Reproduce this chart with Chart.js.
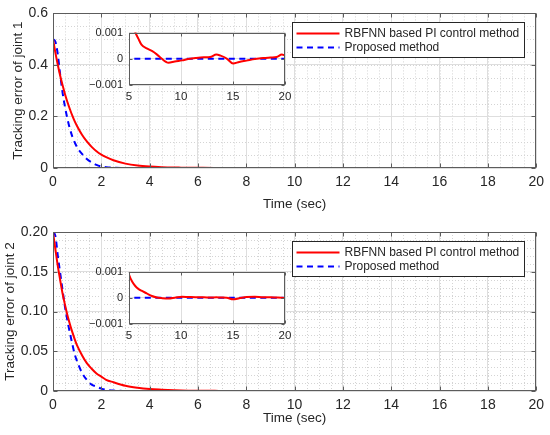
<!DOCTYPE html>
<html lang="en">
<head>
<meta charset="UTF-8">
<title>Tracking error of joints</title>
<script src="https://cdn.jsdelivr.net/npm/chart.js"></script>
<style>
  html, body { margin: 0; padding: 0; background: #fff; }
  #wrap { position: relative; width: 550px; height: 435px; }
  canvas { position: absolute; }
</style>
</head>
<body>
<div id="wrap">
  <canvas id="main1" width="550" height="217" style="left:0;top:0"></canvas>
  <canvas id="main2" width="550" height="218" style="left:0;top:217px"></canvas>
  <canvas id="inset1" width="220" height="90" style="left:79px;top:20px"></canvas>
  <canvas id="inset2" width="220" height="90" style="left:79px;top:259px"></canvas>
</div>
<script>
// time samples (sec)
const time = [0, 0.1, 0.2, 0.3, 0.4, 0.5, 0.6, 0.7, 0.8, 0.9,
  1.0, 1.2, 1.4, 1.6, 1.8, 2.0, 2.2, 2.5, 3.0, 3.5,
  4.0, 4.5, 5.0, 5.3, 5.6, 5.9, 6.2, 6.7, 7.2, 7.7,
  8.1, 8.8, 9.4, 10.1, 10.7, 11.4, 12.2, 12.8, 13.4, 13.8,
  14.4, 15.0, 15.6, 16.3, 17.1, 17.9, 18.6, 19.2, 19.7, 20];

// joint 1
const rbfnnJoint1 = [0.5, 0.447, 0.4, 0.357, 0.32, 0.285, 0.255, 0.228, 0.203, 0.181,
  0.162, 0.129, 0.103, 0.082, 0.065, 0.052, 0.042, 0.03, 0.017, 0.0095,
  0.0055, 0.0032, 0.0018, 0.0014, 0.00102, 0.00077, 0.00054, 0.0004, 0.0003, 0.00016,
  0.00002, -0.00015, -0.0001, -0.00006, -0.00001, 0.00003, 0.00006, 0.00007, 0.00016, 0.00012,
  0.00001, -0.00018, -0.00012, -0.00007, -0.00001, 0.00003, 0.00005, 0.00007, 0.00016, 0.00013];
const proposedJoint1 = [0.5, 0.49, 0.44, 0.36, 0.29, 0.235, 0.19, 0.152, 0.122, 0.099,
  0.08, 0.055, 0.035, 0.022, 0.012, 0.006, 0.003, 0.001, 0.0002, 0,
  0, 0, 0, 0, 0, 0, 0, 0, 0, 0,
  0, 0, 0, 0, 0, 0, 0, 0, 0, 0,
  0, 0, 0, 0, 0, 0, 0, 0, 0, 0];

// joint 2
const rbfnnJoint2 = [0.2, 0.178, 0.157, 0.139, 0.122, 0.108, 0.095, 0.084, 0.074, 0.065,
  0.057, 0.045, 0.035, 0.028, 0.022, 0.018, 0.014, 0.011, 0.0066, 0.0041,
  0.0025, 0.0016, 0.00089, 0.00062, 0.00045, 0.00034, 0.00027, 0.00017, 0.00007, 0.00001,
  -0.00001, -0.00003, 0, 0.00004, 0.00003, 0.00002, 0.00002, 0.00001, 0.00002, 0.00001,
  0, -0.00006, -0.00002, 0.00003, 0.00004, 0.00002, 0.00002, 0.00001, 0, -0.00001];
const proposedJoint2 = [0.2, 0.195, 0.17, 0.148, 0.126, 0.105, 0.088, 0.073, 0.059, 0.046,
  0.037, 0.023, 0.014, 0.008, 0.0055, 0.003, 0.0015, 0.0005, 0.0001, 0,
  0, 0, 0, 0, 0, 0, 0, 0, 0, 0,
  0, 0, 0, 0, 0, 0, 0, 0, 0, 0,
  0, 0, 0, 0, 0, 0, 0, 0, 0, 0];

const seriesNames = ['RBFNN based PI control method', 'Proposed method'];

// tick labels
const timeTicks = [0, 2, 4, 6, 8, 10, 12, 14, 16, 18, 20];
const joint1Ticks = [0, 0.2, 0.4, 0.6];
const joint2Ticks = [0, 0.05, 0.1, 0.15, 0.2];
const insetTimeTicks = [5, 10, 15, 20];
const insetErrTicks = [-0.001, 0, 0.001];

const FONT = '"Liberation Sans", Arial, sans-serif';
const TEXT = '#262626';
Chart.defaults.font.family = FONT;
Chart.defaults.color = TEXT;

// MATLAB style: minor dotted grid, white plot box, box outline with inward ticks, legend
const matlabAxes = {
  id: 'matlabAxes',
  beforeDraw(chart, args, opts) {
    const { ctx, chartArea: a, scales: { x, y } } = chart;
    ctx.save();
    if (opts.fill) {
      ctx.fillStyle = opts.fill;
      ctx.fillRect(a.left, a.top, a.width, a.height);
    }
    ctx.strokeStyle = '#d4d4d4';
    ctx.lineWidth = 1;
    ctx.setLineDash([1, 2]);
    ctx.beginPath();
    if (opts.minorX) {
      const n = Math.round((x.max - x.min) / opts.minorX);
      for (let i = 0; i <= n; i++) {
        const px = Math.round(x.getPixelForValue(x.min + i * opts.minorX)) + 0.5;
        ctx.moveTo(px, a.top); ctx.lineTo(px, a.bottom);
      }
    }
    if (opts.minorY) {
      const n = Math.round((y.max - y.min) / opts.minorY);
      for (let i = 0; i <= n; i++) {
        const py = Math.round(y.getPixelForValue(y.min + i * opts.minorY)) + 0.5;
        ctx.moveTo(a.left, py); ctx.lineTo(a.right, py);
      }
    }
    ctx.stroke();
    ctx.restore();
  },
  afterDraw(chart, args, opts) {
    const { ctx, chartArea: a, scales: { x, y } } = chart;
    ctx.save();
    ctx.strokeStyle = '#5c5c5c';
    ctx.lineWidth = 1;
    ctx.setLineDash([]);
    const L = Math.round(a.left) + 0.5, T = Math.round(a.top) + 0.5;
    const R = Math.round(a.right) - 0.5, B = Math.round(a.bottom) - 0.5;
    ctx.strokeRect(L, T, R - L, B - T);
    const t = opts.tickLen || 4;
    ctx.beginPath();
    x.ticks.forEach(tk => {
      const px = Math.round(x.getPixelForValue(tk.value)) + 0.5;
      ctx.moveTo(px, B); ctx.lineTo(px, B - t);
      ctx.moveTo(px, T); ctx.lineTo(px, T + t);
    });
    y.ticks.forEach(tk => {
      const py = Math.round(y.getPixelForValue(tk.value)) + 0.5;
      ctx.moveTo(L, py); ctx.lineTo(L + t, py);
      ctx.moveTo(R, py); ctx.lineTo(R - t, py);
    });
    ctx.stroke();

    if (opts.legend) {
      const sets = chart.data.datasets;
      ctx.font = '12px ' + FONT;
      const textW = Math.max(...sets.map(d => ctx.measureText(d.label).width));
      const w = Math.round(4 + 43 + 5 + textW + 5), h = 35;
      const lx = Math.round(a.right) - 12 - w + 0.5, ly = Math.round(a.top) + 9 + 0.5;
      ctx.fillStyle = '#fff';
      ctx.fillRect(lx, ly, w, h);
      ctx.strokeStyle = '#262626';
      ctx.strokeRect(lx, ly, w, h);
      sets.forEach((d, i) => {
        const cy = ly + 11 + i * 14;
        ctx.strokeStyle = d.borderColor;
        ctx.lineWidth = d.borderWidth;
        ctx.setLineDash(d.borderDash || []);
        ctx.beginPath();
        ctx.moveTo(lx + 4, cy); ctx.lineTo(lx + 47, cy);
        ctx.stroke();
        ctx.setLineDash([]);
        ctx.fillStyle = TEXT;
        ctx.textBaseline = 'middle';
        ctx.fillText(d.label, lx + 52, cy + 0.5);
      });
    }
    ctx.restore();
  }
};

function makeSets(red, blue) {
  return [
    {
      label: seriesNames[0],
      data: time.map((t, i) => ({ x: t, y: red[i] })),
      borderColor: '#ff0000', borderWidth: 2, cubicInterpolationMode: 'monotone'
    },
    {
      label: seriesNames[1],
      data: time.map((t, i) => ({ x: t, y: blue[i] })),
      borderColor: '#0000ff', borderWidth: 2, borderDash: [6, 4.5], cubicInterpolationMode: 'monotone'
    }
  ];
}

function setTicks(list) {
  return s => { s.ticks = list.map(v => ({ value: v })); };
}

function makeMain(id, red, blue, cfg) {
  return new Chart(document.getElementById(id), {
    type: 'line',
    data: { datasets: makeSets(red, blue) },
    plugins: [matlabAxes],
    options: {
      responsive: false,
      animation: false,
      events: [],
      elements: { point: { radius: 0 } },
      layout: { padding: { top: cfg.padTop, right: 11, left: 0, bottom: 0 } },
      scales: {
        x: {
          type: 'linear', min: 0, max: 20,
          afterBuildTicks: setTicks(timeTicks),
          afterFit: s => { s.height = cfg.xHeight; },
          grid: { color: '#dedede', drawTicks: false },
          border: { display: false },
          ticks: { padding: 6, font: { size: 14 }, maxRotation: 0, autoSkip: false },
          title: { display: true, text: 'Time (sec)', font: { size: 13.5 }, padding: { top: 0, bottom: cfg.xTitlePad } }
        },
        y: {
          type: 'linear', min: 0, max: cfg.yMax,
          afterBuildTicks: setTicks(cfg.yTicks),
          afterFit: s => { s.width = 53; },
          grid: { color: '#dedede', drawTicks: false },
          border: { display: false },
          ticks: { padding: 5, font: { size: 14 }, autoSkip: false },
          title: { display: true, text: cfg.yTitle, font: { size: 13.5 }, padding: { top: cfg.yTitlePad, bottom: 0 } }
        }
      },
      plugins: {
        legend: { display: false },
        tooltip: { enabled: false },
        matlabAxes: { minorX: 0.5, minorY: cfg.minorY, legend: true, tickLen: 4 }
      }
    }
  });
}

function makeInset(id, red, blue) {
  return new Chart(document.getElementById(id), {
    type: 'line',
    data: { datasets: makeSets(red, blue) },
    plugins: [matlabAxes],
    options: {
      responsive: false,
      animation: false,
      events: [],
      elements: { point: { radius: 0 } },
      layout: { padding: { top: 11, right: 14, left: 0, bottom: 0 } },
      scales: {
        x: {
          type: 'linear', min: 5, max: 20,
          afterBuildTicks: setTicks(insetTimeTicks),
          afterFit: s => { s.height = 25; },
          grid: { color: '#dedede', drawTicks: false },
          border: { display: false },
          ticks: { padding: 5, font: { size: 11.5 }, maxRotation: 0, autoSkip: false }
        },
        y: {
          type: 'linear', min: -0.001, max: 0.001,
          afterBuildTicks: setTicks(insetErrTicks),
          afterFit: s => { s.width = 50; },
          grid: { color: '#dedede', drawTicks: false },
          border: { display: false },
          ticks: {
            padding: 6, font: { size: 11 }, autoSkip: false,
            callback: v => v === 0 ? '0' : (v < 0 ? '\u2212' : '') + Math.abs(v).toFixed(3)
          }
        }
      },
      plugins: {
        legend: { display: false },
        tooltip: { enabled: false },
        matlabAxes: { fill: '#ffffff', tickLen: 3 }
      }
    }
  });
}

makeMain('main1', rbfnnJoint1, proposedJoint1, {
  padTop: 9, xHeight: 49, xTitlePad: 5, yMax: 0.6, yTicks: joint1Ticks,
  yTitle: 'Tracking error of joint 1', yTitlePad: 10.5, minorY: 0.05
});
makeMain('main2', rbfnnJoint2, proposedJoint2, {
  padTop: 15, xHeight: 44, xTitlePad: 8.5, yMax: 0.2, yTicks: joint2Ticks,
  yTitle: 'Tracking error of joint 2', yTitlePad: 2.5, minorY: 0.01
});
makeInset('inset1', rbfnnJoint1, proposedJoint1);
makeInset('inset2', rbfnnJoint2, proposedJoint2);
</script>
</body>
</html>
